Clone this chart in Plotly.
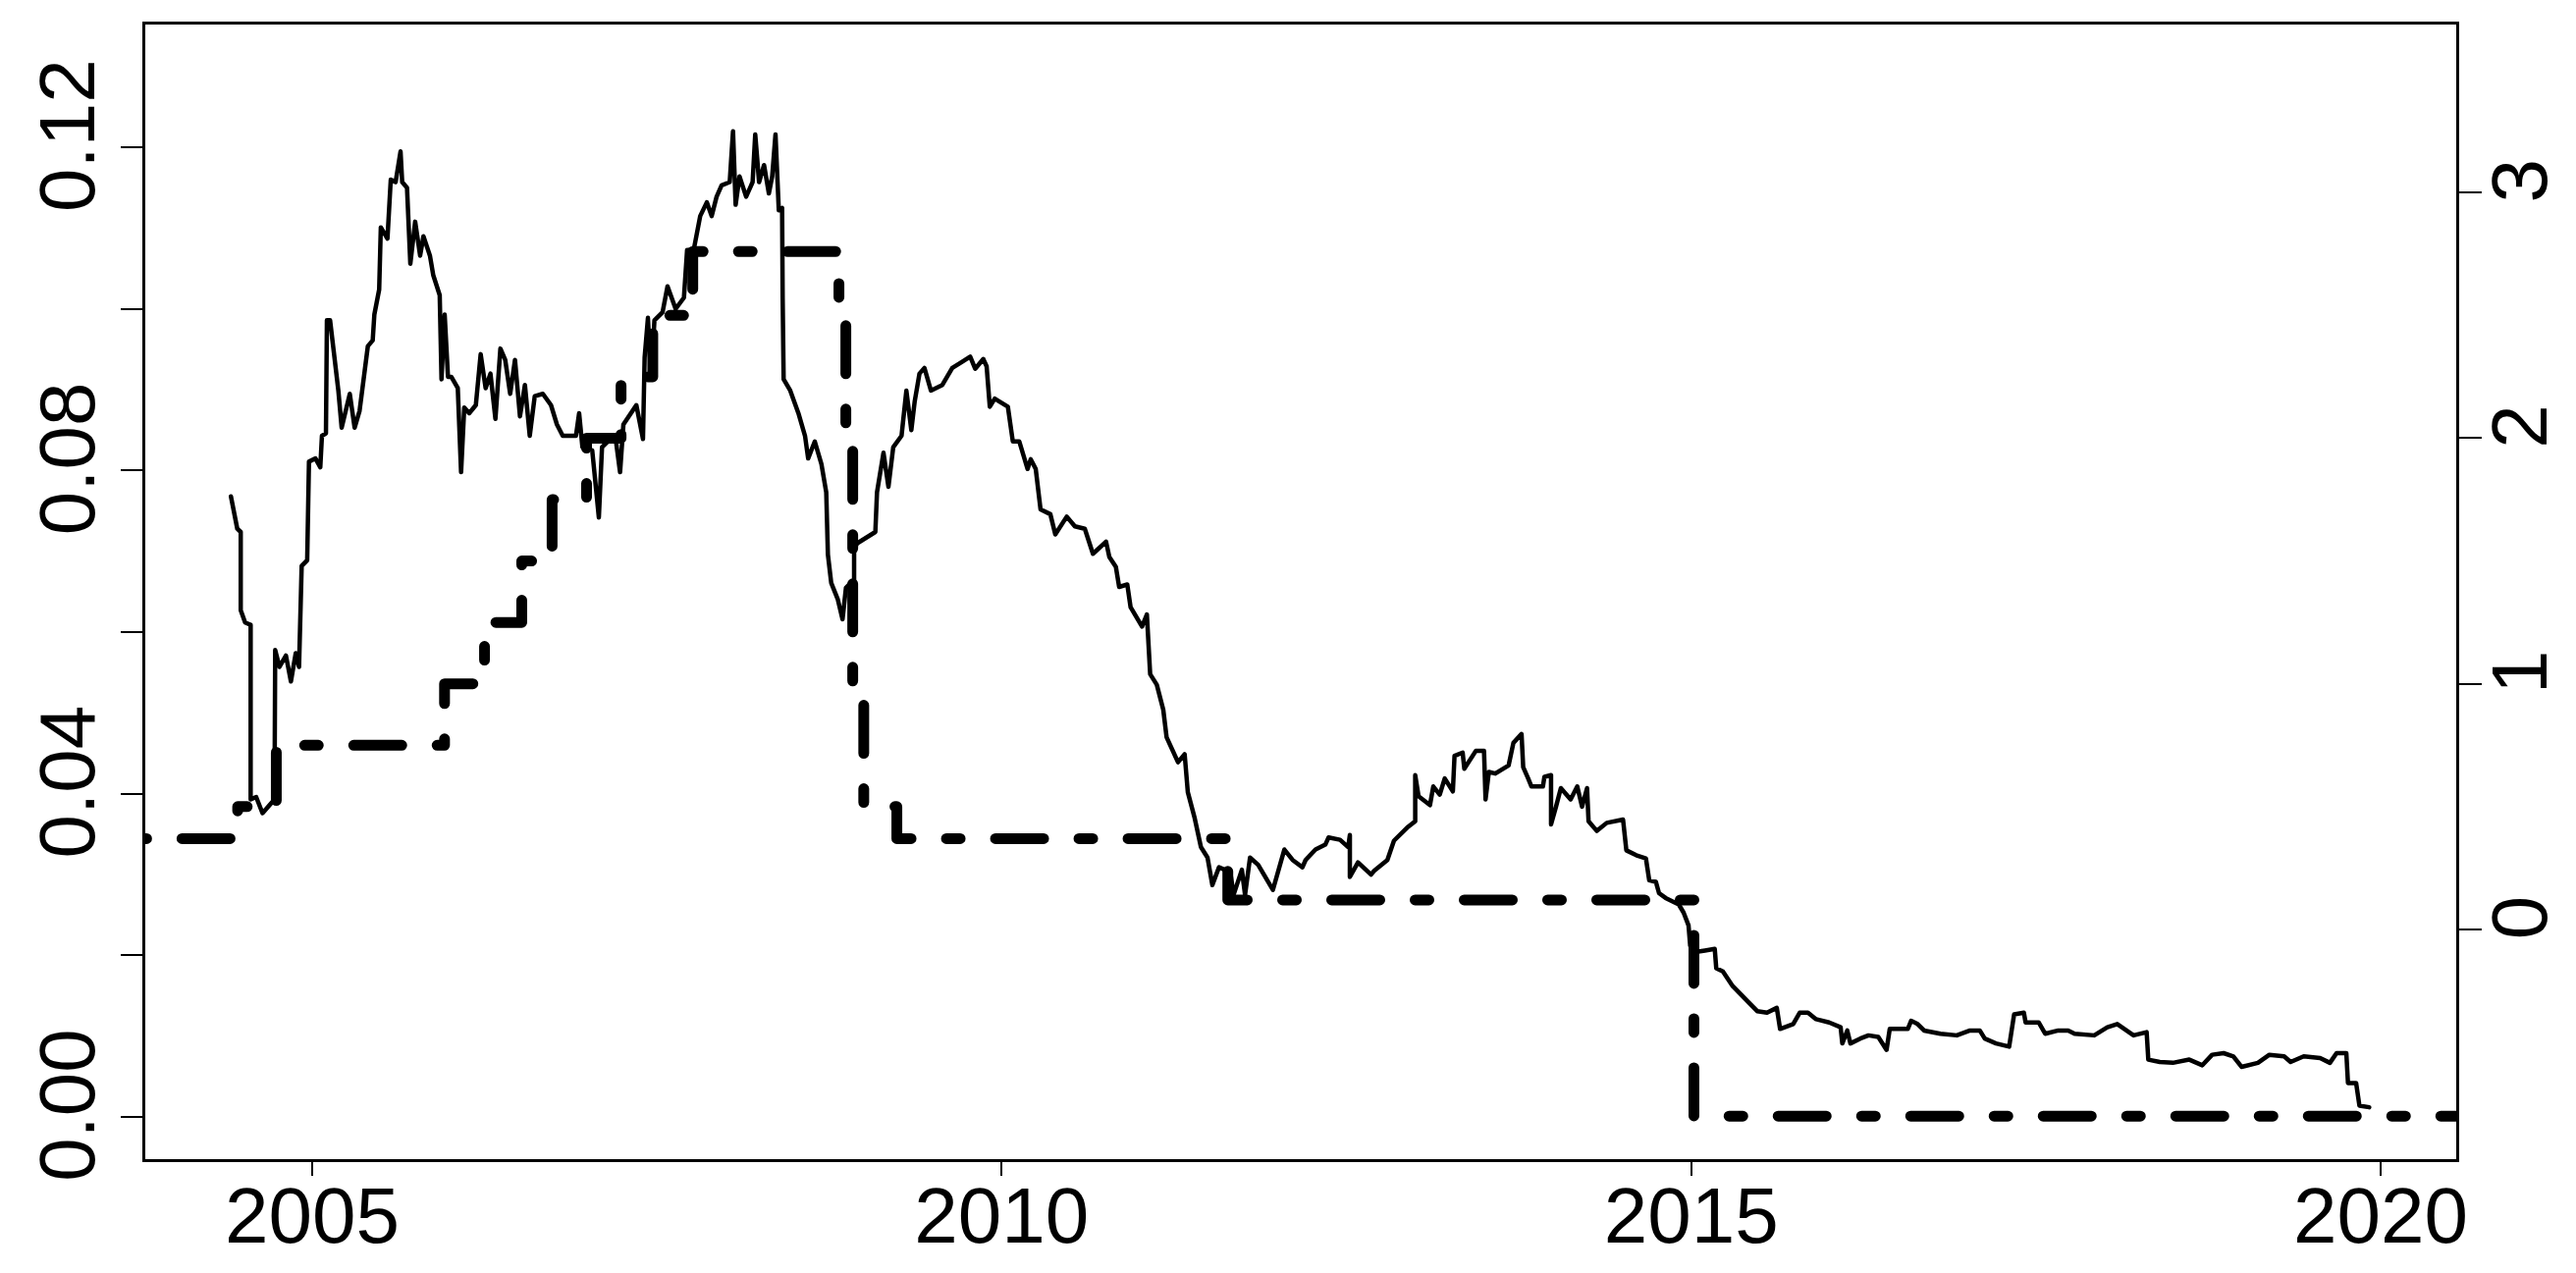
import plotly.graph_objects as go

# solid series (left axis), decimal years
spread_t = [
    2004.411, 2004.457, 2004.482, 2004.482, 2004.514, 2004.554, 2004.554, 2004.594, 2004.640, 2004.727,
    2004.732, 2004.763, 2004.810, 2004.846, 2004.881, 2004.905, 2004.924, 2004.964, 2004.977, 2005.024,
    2005.059, 2005.071, 2005.100, 2005.107, 2005.130, 2005.154, 2005.190, 2005.214, 2005.273, 2005.308,
    2005.344, 2005.404, 2005.439, 2005.451, 2005.486, 2005.498, 2005.546, 2005.570, 2005.605, 2005.641,
    2005.653, 2005.688, 2005.712, 2005.747, 2005.783, 2005.807, 2005.854, 2005.878, 2005.925, 2005.938,
    2005.961, 2005.985, 2006.009, 2006.056, 2006.080, 2006.103, 2006.139, 2006.187, 2006.222, 2006.258,
    2006.293, 2006.329, 2006.365, 2006.400, 2006.436, 2006.471, 2006.507, 2006.543, 2006.578, 2006.614,
    2006.673, 2006.732, 2006.775, 2006.817, 2006.913, 2006.936, 2006.960, 2007.031, 2007.079, 2007.102,
    2007.162, 2007.198, 2007.233, 2007.257, 2007.328, 2007.351, 2007.399, 2007.411, 2007.435, 2007.458,
    2007.482, 2007.541, 2007.577, 2007.636, 2007.696, 2007.719, 2007.767, 2007.814, 2007.862, 2007.897,
    2007.933, 2007.969, 2008.028, 2008.052, 2008.071, 2008.099, 2008.147, 2008.194, 2008.213, 2008.241,
    2008.277, 2008.312, 2008.336, 2008.360, 2008.384, 2008.408, 2008.412, 2008.419, 2008.467, 2008.526,
    2008.574, 2008.597, 2008.645, 2008.693, 2008.728, 2008.740, 2008.764, 2008.811, 2008.846, 2008.871,
    2008.906, 2008.930, 2008.930, 2008.953, 2009.084, 2009.096, 2009.143, 2009.179, 2009.214, 2009.274,
    2009.309, 2009.345, 2009.369, 2009.404, 2009.440, 2009.487, 2009.570, 2009.642, 2009.708, 2009.772,
    2009.808, 2009.867, 2009.891, 2009.914, 2009.950, 2010.045, 2010.081, 2010.128, 2010.188, 2010.211,
    2010.247, 2010.282, 2010.353, 2010.389, 2010.472, 2010.531, 2010.603, 2010.662, 2010.757, 2010.781,
    2010.828, 2010.852, 2010.911, 2010.935, 2011.018, 2011.053, 2011.077, 2011.125, 2011.172, 2011.196,
    2011.279, 2011.327, 2011.350, 2011.398, 2011.445, 2011.493, 2011.528, 2011.576, 2011.658, 2011.682,
    2011.742, 2011.765, 2011.801, 2011.860, 2011.967, 2012.050, 2012.110, 2012.181, 2012.204, 2012.276,
    2012.347, 2012.371, 2012.454, 2012.513, 2012.525, 2012.525, 2012.584, 2012.679, 2012.703, 2012.774,
    2012.797, 2012.845, 2012.940, 2012.999, 2012.999, 2013.023, 2013.106, 2013.130, 2013.177, 2013.213,
    2013.272, 2013.284, 2013.343, 2013.355, 2013.438, 2013.498, 2013.509, 2013.533, 2013.580, 2013.676,
    2013.711, 2013.770, 2013.782, 2013.818, 2013.842, 2013.925, 2013.936, 2013.984, 2013.984, 2014.020,
    2014.055, 2014.126, 2014.174, 2014.209, 2014.245, 2014.256, 2014.316, 2014.388, 2014.506, 2014.530,
    2014.601, 2014.672, 2014.696, 2014.744, 2014.767, 2014.815, 2014.910, 2014.945, 2014.981, 2014.993,
    2015.028, 2015.100, 2015.171, 2015.182, 2015.230, 2015.301, 2015.408, 2015.479, 2015.550, 2015.621,
    2015.645, 2015.740, 2015.787, 2015.847, 2015.906, 2016.001, 2016.084, 2016.096, 2016.132, 2016.155,
    2016.226, 2016.286, 2016.357, 2016.417, 2016.440, 2016.571, 2016.595, 2016.642, 2016.689, 2016.808,
    2016.926, 2017.022, 2017.093, 2017.129, 2017.211, 2017.306, 2017.342, 2017.413, 2017.425, 2017.520,
    2017.567, 2017.662, 2017.734, 2017.781, 2017.923, 2018.018, 2018.090, 2018.161, 2018.208, 2018.303,
    2018.315, 2018.398, 2018.493, 2018.612, 2018.707, 2018.778, 2018.861, 2018.932, 2018.991, 2019.110,
    2019.193, 2019.300, 2019.347, 2019.442, 2019.561, 2019.632, 2019.680, 2019.751, 2019.763, 2019.822,
    2019.846, 2019.917,
]
spread = [
    0.0768, 0.0728, 0.0724, 0.0627, 0.0612, 0.0609, 0.0393, 0.0396, 0.0376, 0.0393,
    0.0578, 0.0557, 0.0571, 0.0539, 0.0574, 0.0557, 0.0682, 0.0689, 0.0811, 0.0815,
    0.0804, 0.0843, 0.0846, 0.0986, 0.0986, 0.0954, 0.0899, 0.0853, 0.0895, 0.0853,
    0.0874, 0.0954, 0.0961, 0.0993, 0.1024, 0.1101, 0.1087, 0.1160, 0.1157, 0.1195,
    0.1157, 0.1150, 0.1056, 0.1108, 0.1066, 0.1090, 0.1066, 0.1042, 0.1017, 0.0913,
    0.0993, 0.0916, 0.0916, 0.0902, 0.0798, 0.0878, 0.0871, 0.0881, 0.0944, 0.0902,
    0.0920, 0.0864, 0.0951, 0.0937, 0.0895, 0.0937, 0.0867, 0.0906, 0.0843, 0.0892,
    0.0895, 0.0881, 0.0857, 0.0843, 0.0843, 0.0871, 0.0829, 0.0825, 0.0742, 0.0829,
    0.0839, 0.0843, 0.0798, 0.0857, 0.0874, 0.0881, 0.0839, 0.0940, 0.0989, 0.0913,
    0.0986, 0.0996, 0.1028, 0.1000, 0.1014, 0.1073, 0.1073, 0.1115, 0.1132, 0.1115,
    0.1139, 0.1153, 0.1157, 0.1220, 0.1129, 0.1164, 0.1139, 0.1157, 0.1216, 0.1157,
    0.1178, 0.1143, 0.1164, 0.1216, 0.1122, 0.1125, 0.1014, 0.0913, 0.0899, 0.0871,
    0.0843, 0.0815, 0.0836, 0.0808, 0.0773, 0.0696, 0.0661, 0.0641, 0.0616, 0.0655,
    0.0661, 0.0606, 0.0703, 0.0710, 0.0724, 0.0773, 0.0822, 0.0780, 0.0829, 0.0843,
    0.0899, 0.0850, 0.0885, 0.0920, 0.0927, 0.0899, 0.0906, 0.0927, 0.0934, 0.0941,
    0.0926, 0.0938, 0.0929, 0.0879, 0.0889, 0.0879, 0.0836, 0.0836, 0.0802, 0.0814,
    0.0802, 0.0752, 0.0746, 0.0721, 0.0743, 0.0731, 0.0728, 0.0697, 0.0712, 0.0693,
    0.0681, 0.0656, 0.0659, 0.0631, 0.0607, 0.0622, 0.0548, 0.0535, 0.0504, 0.0470,
    0.0439, 0.0449, 0.0402, 0.0371, 0.0334, 0.0321, 0.0287, 0.0309, 0.0303, 0.0275,
    0.0306, 0.0275, 0.0321, 0.0312, 0.0281, 0.0331, 0.0318, 0.0309, 0.0318, 0.0331,
    0.0337, 0.0346, 0.0343, 0.0334, 0.0349, 0.0297, 0.0315, 0.0300, 0.0305, 0.0314,
    0.0318, 0.0342, 0.0358, 0.0366, 0.0423, 0.0397, 0.0386, 0.0409, 0.0399, 0.0419,
    0.0403, 0.0447, 0.0451, 0.0431, 0.0453, 0.0453, 0.0393, 0.0427, 0.0425, 0.0435,
    0.0463, 0.0474, 0.0433, 0.0419, 0.0409, 0.0409, 0.0421, 0.0423, 0.0362, 0.0384,
    0.0407, 0.0393, 0.0409, 0.0384, 0.0407, 0.0366, 0.0354, 0.0364, 0.0368, 0.0330,
    0.0324, 0.0320, 0.0293, 0.0291, 0.0277, 0.0271, 0.0263, 0.0253, 0.0237, 0.0212,
    0.0204, 0.0206, 0.0208, 0.0184, 0.0180, 0.0162, 0.0143, 0.0131, 0.0129, 0.0135,
    0.0109, 0.0115, 0.0129, 0.0129, 0.0121, 0.0117, 0.0111, 0.0091, 0.0107, 0.0091,
    0.0097, 0.0101, 0.0099, 0.0083, 0.0109, 0.0109, 0.0119, 0.0115, 0.0107, 0.0103,
    0.0101, 0.0107, 0.0107, 0.0097, 0.0091, 0.0087, 0.0127, 0.0129, 0.0117, 0.0117,
    0.0103, 0.0107, 0.0107, 0.0103, 0.0101, 0.0111, 0.0115, 0.0107, 0.0101, 0.0105,
    0.0071, 0.0068, 0.0067, 0.0071, 0.0064, 0.0077, 0.0079, 0.0075, 0.0062, 0.0067,
    0.0077, 0.0075, 0.0068, 0.0075, 0.0073, 0.0067, 0.0079, 0.0079, 0.0042, 0.0042,
    0.0014, 0.0012,
]

# dashed step series (right axis)
rate_t = [2003.70, 2004.46, 2004.74, 2005.96, 2006.25, 2006.52, 2006.74, 2006.99, 2007.24, 2007.47,
          2007.76, 2008.82, 2008.87, 2008.92, 2009.00, 2009.24, 2011.64, 2015.02, 2020.60]
rate = [0.37, 0.5, 0.75, 1.0, 1.25, 1.5, 1.75, 2.0, 2.25, 2.5,
        2.76, 2.5, 2.0, 1.0, 0.5, 0.37, 0.12, -0.76, -0.76]

x_ticks = [2005, 2010, 2015, 2020]
left_ticks = [0.00, 0.02, 0.04, 0.06, 0.08, 0.10, 0.12]
left_labels = ["0.00", "", "0.04", "", "0.08", "", "0.12"]
right_ticks = [0, 1, 2, 3]

FONT = "Liberation Sans, Arial, sans-serif"

fig = go.Figure()

fig.add_trace(go.Scatter(
    x=spread_t, y=spread,
    mode='lines',
    line=dict(color='black', width=4.5),
    showlegend=False,
    hoverinfo='skip',
))

# dot-dash pattern; caps are rounded afterwards, so core lengths are shorter than what shows
fig.add_trace(go.Scatter(
    x=rate_t, y=rate,
    mode='lines',
    yaxis='y2',
    line=dict(color='black', width=11, shape='hv', dash='14px,36px,49px,36px'),
    showlegend=False,
    hoverinfo='skip',
))

axis_common = dict(
    showgrid=False, zeroline=False, automargin=False,
    showline=True, linecolor='black', linewidth=3,
    ticks='outside', tickcolor='black', tickwidth=2,
    tickfont=dict(family=FONT, size=80, color='black'),
)

fig.update_layout(
    width=2624, height=1297,
    margin=dict(l=148, r=122, t=25, b=116, autoexpand=False),
    paper_bgcolor='white', plot_bgcolor='white',
    xaxis=dict(
        range=[2003.79, 2020.548],
        tickvals=x_ticks, ticktext=[str(v) for v in x_ticks],
        ticklen=14, mirror=True, ticklabelstandoff=-28,
        **axis_common,
    ),
    yaxis=dict(
        range=[-0.00522, 0.1352],
        tickvals=left_ticks, ticktext=left_labels,
        ticklen=22, tickangle=-90, mirror=True, ticklabelstandoff=-5,
        **axis_common,
    ),
    yaxis2=dict(
        range=[-0.935, 3.684],
        overlaying='y', side='right',
        tickvals=right_ticks, ticktext=[str(v) for v in right_ticks],
        ticklen=23, tickangle=-90, ticklabelstandoff=-30,
        **axis_common,
    ),
    hovermode=False,
)

post_js = """
document.body.style.margin = '0';
document.body.style.overflow = 'hidden';
var gd = document.getElementById('{plot_id}');
gd.querySelectorAll('.scatterlayer .trace path.js-line').forEach(function (p) {
    p.style.strokeLinecap = 'round';
    p.style.strokeLinejoin = 'round';
});
"""

fig.write_html("out.html", config=dict(displayModeBar=False), post_script=post_js)
